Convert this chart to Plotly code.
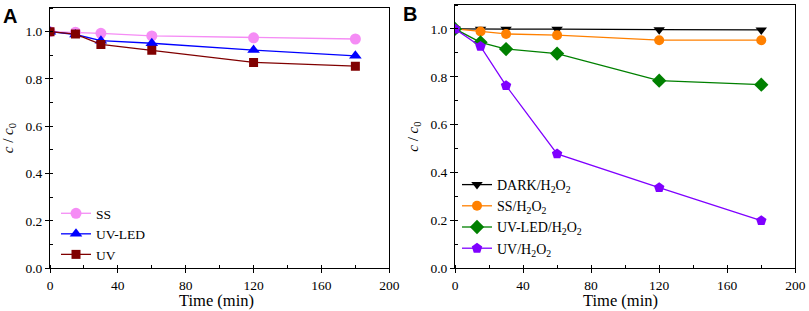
import plotly.graph_objects as go

time = [0, 15, 30, 60, 120, 180]

# Panel A
a_ss = [1.0, 0.998, 0.993, 0.982, 0.974, 0.969]
a_uvled = [1.0, 0.988, 0.962, 0.951, 0.922, 0.898]
a_uv = [1.0, 0.990, 0.946, 0.921, 0.870, 0.854]

# Panel B
b_dark = [1.0, 0.999, 0.999, 0.999, 0.997, 0.996]
b_ss = [1.0, 0.989, 0.979, 0.974, 0.953, 0.953]
b_uvled = [1.0, 0.944, 0.916, 0.897, 0.784, 0.767]
b_uv = [1.0, 0.927, 0.763, 0.478, 0.337, 0.199]

names_a = ["SS", "UV-LED", "UV"]
names_b = ["DARK/H<sub>2</sub>O<sub>2</sub>", "SS/H<sub>2</sub>O<sub>2</sub>",
           "UV-LED/H<sub>2</sub>O<sub>2</sub>", "UV/H<sub>2</sub>O<sub>2</sub>"]

x_ticks = [0, 40, 80, 120, 160, 200]
y_ticks = [0.0, 0.2, 0.4, 0.6, 0.8, 1.0]
x_title = "Time (min)"
y_title = "<i>c</i> / <i>c</i><sub>0</sub>"

SERIF = "Times New Roman"
SANS = "Arial"

fig = go.Figure()

def add(x, y, name, color, symbol, xa, ya, legend, size=10):
    fig.add_trace(go.Scatter(
        x=x, y=y, name=name, mode="lines+markers",
        line=dict(color=color, width=1.3),
        marker=dict(color=color, symbol=symbol, size=size),
        xaxis=xa, yaxis=ya, legend=legend,
    ))

add(time, a_ss, names_a[0], "#F58CF5", "circle", "x", "y", "legend", size=11)
add(time, a_uvled, names_a[1], "#0000FF", "triangle-up", "x", "y", "legend", size=11)
add(time, a_uv, names_a[2], "#800000", "square", "x", "y", "legend", size=9)

add(time, b_dark, names_b[0], "#000000", "triangle-down", "x2", "y2", "legend2")
add(time, b_ss, names_b[1], "#FF8000", "circle", "x2", "y2", "legend2")
add(time, b_uvled, names_b[2], "#008000", "diamond", "x2", "y2", "legend2", size=11)
add(time, b_uv, names_b[3], "#7F00FF", "pentagon", "x2", "y2", "legend2", size=11)

def xaxis(domain, anchor):
    return dict(
        domain=domain, anchor=anchor, range=[0, 200], automargin=False,
        tickvals=x_ticks, ticktext=[str(v) for v in x_ticks],
        ticks="outside", ticklen=4, tickwidth=1, tickcolor="black",
        minor=dict(dtick=20, tick0=0, ticks="inside", ticklen=3, tickcolor="black"),
        showline=True, linecolor="black", linewidth=1, mirror=True,
        showgrid=False, zeroline=False,
        tickfont=dict(family=SERIF, size=13.5, color="black"),
    )

def yaxis(domain, anchor):
    return dict(
        domain=domain, anchor=anchor, range=[0, 1.1], automargin=False,
        tickvals=y_ticks, ticktext=["%.1f" % v for v in y_ticks],
        ticks="outside", ticklen=4, tickwidth=1, tickcolor="black",
        minor=dict(dtick=0.1, tick0=0, ticks="inside", ticklen=3, tickcolor="black"),
        showline=True, linecolor="black", linewidth=1, mirror=True,
        showgrid=False, zeroline=False,
        tickfont=dict(family=SERIF, size=13.5, color="black"),
        title=dict(text=y_title, font=dict(family=SERIF, size=15, color="black"), standoff=8),
    )

leg_common = dict(
    bgcolor="rgba(0,0,0,0)", xanchor="left", yanchor="top",
    tracegroupgap=0, itemwidth=30,
)

def label(text, x, y, family, size, xanchor="left", yanchor="top"):
    return dict(text=text, x=x / 809, y=1 - y / 311, xref="paper", yref="paper",
                xanchor=xanchor, yanchor=yanchor, showarrow=False,
                font=dict(family=family, size=size, color="black"))

fig.update_layout(
    width=809, height=311,
    margin=dict(l=0, r=0, t=0, b=0, autoexpand=False),
    paper_bgcolor="white", plot_bgcolor="white",
    font=dict(family=SERIF),
    showlegend=True,
    xaxis=xaxis([50/809, 389.3/809], "y"),
    yaxis=yaxis([1 - 268.3/311, 1 - 8/311], "x"),
    xaxis2=xaxis([455/809, 795.3/809], "y2"),
    yaxis2=yaxis([1 - 268.3/311, 1 - 5/311], "x2"),
    legend=dict(x=56/809, y=1 - 198/311, font=dict(family=SERIF, size=13.5, color="black"), **leg_common),
    legend2=dict(x=457/809, y=1 - 169/311, font=dict(family=SERIF, size=14, color="black"), **leg_common),
    annotations=[
        label("<b>A</b>", 1, 3, SANS, 20),
        label("<b>B</b>", 401, 1, SANS, 20),
        label(x_title, 216, 300.5, SERIF, 16.5, xanchor="center", yanchor="middle"),
        label(x_title, 620, 300.5, SERIF, 16.5, xanchor="center", yanchor="middle"),
    ],
)

fig.write_html("out.html", post_script="document.body.style.margin='0px';",
               config={"displayModeBar": False})
